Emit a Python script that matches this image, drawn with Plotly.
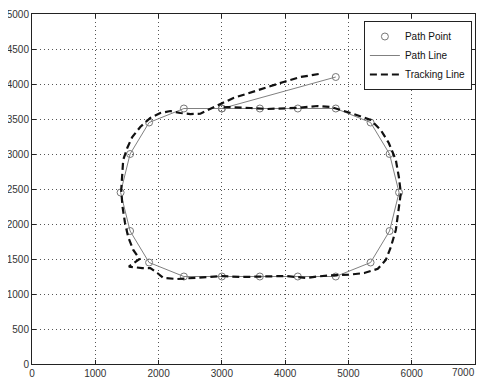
import plotly.graph_objects as go

# Path points (waypoints)
path_x = [4800, 3000, 2400, 1850, 1550, 1400, 1550, 1850, 2400, 3000, 3600, 4200,
          4800, 5350, 5650, 5800, 5650, 5350, 4800, 4200, 3600, 3000]
path_y = [4100, 3650, 3650, 3450, 3000, 2450, 1900, 1450, 1250, 1250, 1250, 1250,
          1250, 1450, 1900, 2450, 3000, 3450, 3650, 3650, 3650, 3650]

# Tracking trajectory
track_x = [4530, 4245, 3975, 3722, 3453, 3183, 2978, 2772, 2660, 2502, 2344, 2186,
           2027, 1869, 1710, 1584, 1505, 1441, 1425, 1410, 1430, 1470, 1520, 1600,
           1700, 1530, 1742, 1869, 1980, 2075, 2297, 2502, 2700, 3000, 3300, 3600,
           4000, 4350, 4500, 4800, 5000, 5250, 5464, 5590, 5670, 5749, 5797, 5828,
           5797, 5749, 5638, 5511, 5353, 5036, 4720, 4514, 4200, 3722, 3453, 3088, 2980]
track_y = [4143, 4100, 4029, 3957, 3871, 3800, 3714, 3629, 3575, 3571, 3586, 3614,
           3586, 3514, 3386, 3243, 3086, 2914, 2729, 2486, 2250, 2014, 1814, 1629,
           1500, 1390, 1371, 1371, 1300, 1229, 1214, 1229, 1243, 1257, 1243, 1250,
           1257, 1229, 1250, 1271, 1275, 1300, 1360, 1486, 1671, 1914, 2200, 2443,
           2671, 2914, 3157, 3343, 3486, 3586, 3671, 3686, 3660, 3643, 3657, 3671, 3660]

x_ticks = [0, 1000, 2000, 3000, 4000, 5000, 6000, 7000]
x_labels = ["0", "1000", "2000", "3000", "4000", "5000", "6000", ""]
last_x_label = "7000"
y_ticks = [0, 500, 1000, 1500, 2000, 2500, 3000, 3500, 4000, 4500, 5000]

FONT = "Liberation Sans, Arial, sans-serif"

fig = go.Figure()
fig.add_trace(go.Scatter(
    x=path_x, y=path_y, mode="markers", name="Path Point",
    marker=dict(symbol="circle-open", size=7, color="#777777", line=dict(width=1, color="#777777")),
))
fig.add_trace(go.Scatter(
    x=path_x, y=path_y, mode="lines", name="Path Line",
    line=dict(color="#808080", width=1),
))
fig.add_trace(go.Scatter(
    x=track_x, y=track_y, mode="lines", name="Tracking Line",
    line=dict(color="#111111", width=2.2, dash="7px,4px"),
))

axis_common = dict(
    showgrid=True, gridcolor="#555555", griddash="1px,3px", gridwidth=1,
    showline=True, linecolor="#222222", linewidth=1, mirror="allticks",
    ticks="inside", ticklen=4, tickcolor="#222222",
    zeroline=False, automargin=False,
    tickfont=dict(family=FONT, size=10, color="#333333"),
)

fig.update_xaxes(range=[0, 7000], tickvals=x_ticks, ticktext=x_labels, **axis_common)
fig.update_yaxes(range=[0, 5000], tickvals=y_ticks, ticktext=[str(v) for v in y_ticks], **axis_common)

# last x tick label, kept inside the window
fig.add_annotation(
    x=x_ticks[-1], y=0, xref="x", yref="y", text=last_x_label, showarrow=False,
    xanchor="right", xshift=2, yanchor="top", yshift=-1,
    font=dict(family=FONT, size=10, color="#333333"),
)

# The page body has an 8px default margin, so the figure is sized to fit the window.
fig.update_layout(
    width=476, height=372,
    margin=dict(l=24, r=9, t=6, b=16),
    paper_bgcolor="white", plot_bgcolor="white",
    font=dict(family=FONT, size=10, color="#111111"),
    legend=dict(
        x=0.993, y=0.98, xanchor="right", yanchor="top",
        bgcolor="white", bordercolor="#222222", borderwidth=1,
        font=dict(size=10), tracegroupgap=0, itemwidth=30,
    ),
    showlegend=True,
)

fig.write_html("out.html")
